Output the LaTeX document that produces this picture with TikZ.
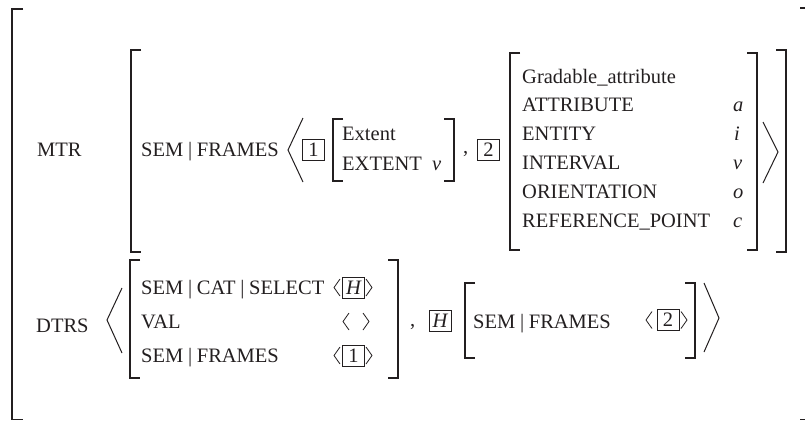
\documentclass[tikz,border=0pt]{standalone}
\usepackage{fontspec}
\setmainfont[WordSpace=0.92]{Liberation Serif}
\definecolor{ink}{RGB}{35,31,32}
% square brackets: left edge / right edge at x, from y1 to y2
\newcommand\avmL[3]{\draw[brk] (#1+10,#2) -- (#1,#2) -- (#1,#3) -- (#1+10,#3);}
\newcommand\avmR[3]{\draw[brk] (#1-10,#2) -- (#1,#2) -- (#1,#3) -- (#1-10,#3);}
% small angle brackets centred at height #2
\newcommand\sangL[2]{\draw[sang] (#1+6,#2-8.5) -- (#1,#2) -- (#1+6,#2+8.5);}
\newcommand\sangR[2]{\draw[sang] (#1,#2-8.5) -- (#1+6,#2) -- (#1,#2+8.5);}
\begin{document}
\begin{tikzpicture}[x=1pt,y=-1pt,
  txtfont/.style={font=\fontsize{20.5}{24}\selectfont},
  lbl/.style={txtfont, anchor=base west, inner sep=0pt, text=ink},
  var/.style={lbl, font=\fontsize{20.5}{24}\selectfont\itshape},
  tag/.style={txtfont, draw=ink, line width=0.9pt, minimum width=22pt,
    minimum height=21pt, inner sep=0pt, text=ink},
  brk/.style={draw=ink, line width=1.4pt},
  ang/.style={draw=ink, line width=1pt},
  sang/.style={draw=ink, line width=0.8pt}]
\useasboundingbox (0,0) rectangle (805,421);

% outer matrix
\draw[brk] (23,9) -- (12,9) -- (12,419.5) -- (23,419.5);
\draw[brk] (800,8) -- (805,8);
\draw[brk] (800,419.5) -- (805,419.5);

% ---------------- MTR ----------------
\node[lbl] (mtr) at (37,156) {MTR};
\avmL{131}{50}{252}
\avmR{786}{50}{252}
\node[lbl] (semfr) at (141,156) {SEM | FRAMES};
\draw[ang] (303,118) -- (288,150) -- (303,182);
\node[tag] (t1) at (313.5,150) {1};
\avmL{333}{119}{181}
\avmR{454}{119}{181}
\node[lbl] (ext) at (342,140) {Extent};
\node[lbl] (extf) at (342,170) {EXTENT};
\node[var] (extv) at (432,170) {v};
\node[lbl] (c1) at (463,153) {,};
\node[tag] (t2) at (488.5,150) {2};
\avmL{510}{53}{250}
\avmR{757}{53}{250}
\node[lbl] (ga0) at (522,83) {Gradable\_attribute};
\node[lbl] (ga1) at (522,111.8) {ATTRIBUTE};
\node[lbl] (ga2) at (522,140.6) {ENTITY};
\node[lbl] (ga3) at (522,169.4) {INTERVAL};
\node[lbl] (ga4) at (522,198.2) {ORIENTATION};
\node[lbl] (ga5) at (522,227) {REFERENCE\_POINT};
\node[var] (gv1) at (733,111.8) {a};
\node[var] (gv2) at (734,140.6) {i};
\node[var] (gv3) at (733,169.4) {v};
\node[var] (gv4) at (733,198.2) {o};
\node[var] (gv5) at (733,227) {c};
\draw[ang] (763,122) -- (778,152) -- (763,183);

% ---------------- DTRS ----------------
\node[lbl] (dtrs) at (36,332) {DTRS};
\draw[ang] (122,288) -- (107,320) -- (122,353);
\avmL{130}{260}{378}
\avmR{398}{260}{378}
\node[lbl] (d1) at (141,294) {SEM | CAT | SELECT};
\node[lbl] (d2) at (141,328) {VAL};
\node[lbl] (d3) at (141,362) {SEM | FRAMES};
\sangL{334}{287.5}
\node[tag] (th) at (353.5,287.5) {\itshape H};
\sangR{366}{287.5}
\sangL{343}{321.5}
\sangR{363}{321.5}
\sangL{334}{355.5}
\node[tag] (t1b) at (353.5,355.5) {1};
\sangR{366}{355.5}
\node[lbl] (c2) at (410,326) {,};
\node[tag] (th2) at (440,321) {\itshape H};
\avmL{465}{283}{358}
\avmR{695}{283}{358}
\node[lbl] (hs) at (473,328) {SEM | FRAMES};
\sangL{646}{320}
\node[tag] (t2b) at (668,320) {2};
\sangR{681}{320}
\draw[ang] (704,283) -- (719,318) -- (704,352);
\end{tikzpicture}
\end{document}
